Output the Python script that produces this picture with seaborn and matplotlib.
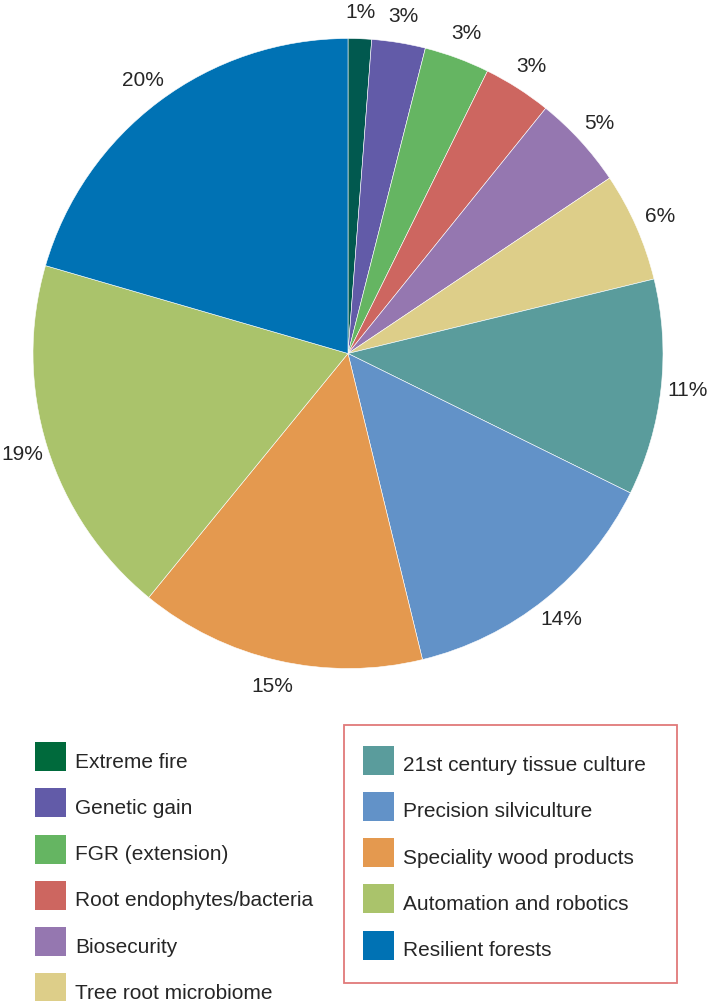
import matplotlib
matplotlib.use("Agg")
import matplotlib.pyplot as plt
from matplotlib.patches import Rectangle
import seaborn as sns

# Funding share by research programme (%)
programmes = [
    "Extreme fire", "Genetic gain", "FGR (extension)", "Root endophytes/bacteria",
    "Biosecurity", "Tree root microbiome", "21st century tissue culture",
    "Precision silviculture", "Speciality wood products", "Automation and robotics",
    "Resilient forests",
]
shares = [1.2, 2.75, 3.35, 3.5, 4.8, 5.6, 11.1, 13.9, 14.7, 18.6, 20.5]
pct_labels = ["1%", "3%", "3%", "3%", "5%", "6%", "11%", "14%", "15%", "19%", "20%"]
colours = [
    "#01594f", "#625ba8", "#65b562", "#cd6660", "#9577b0", "#ddce89",
    "#5a9c9c", "#6292c8", "#e4994f", "#aac36b", "#0072b4",
]
legend_colours = ["#006a3c"] + colours[1:]

sns.set_theme(style="white")
plt.rcParams["font.family"] = ["Liberation Sans", "DejaVu Sans"]
text_col = "#262626"

fig = plt.figure(figsize=(7.2, 10.01), dpi=100)
W, H = 720, 1001

# pie: centre (348, 353.5), radius 315 px
cx, cy, r = 348, 353.5, 315
ax = fig.add_axes([(cx - r) / W, 1 - (cy + r) / H, 2 * r / W, 2 * r / H])
wedges, texts = ax.pie(
    shares, colors=colours, startangle=90, counterclock=False,
    labels=pct_labels, labeldistance=1.083, radius=1,
    wedgeprops=dict(edgecolor="white", linewidth=0.4),
    textprops=dict(color=text_col, fontsize=15),
)
for t in texts:
    t.set_horizontalalignment("center")
    t.set_verticalalignment("center")
ax.set_xlim(-1, 1)
ax.set_ylim(-1, 1)
ax.set_aspect("auto")
ax.axis("off")

# legend: left column plain, right column inside a red box
step = 46.3
sw_w, sw_h = 31, 29


def legend_column(names, cols, x0, top0):
    for i, (name, col) in enumerate(zip(names, cols)):
        top = top0 + i * step
        fig.add_artist(Rectangle((x0 / W, 1 - (top + sw_h) / H), sw_w / W, sw_h / H,
                                 transform=fig.transFigure, facecolor=col,
                                 edgecolor="none"))
        fig.text((x0 + sw_w + 9) / W, 1 - (top + 25.5) / H, name, fontsize=15,
                 color=text_col, ha="left", va="baseline")


legend_column(programmes[:6], legend_colours[:6], 35, 742)
legend_column(programmes[6:], legend_colours[6:], 363, 745.5)

fig.add_artist(Rectangle((344 / W, 1 - 983 / H), 333 / W, 258 / H,
                         transform=fig.transFigure, fill=False,
                         edgecolor="#e07a7a", linewidth=1.3))

fig.savefig("out.png", dpi=100)
